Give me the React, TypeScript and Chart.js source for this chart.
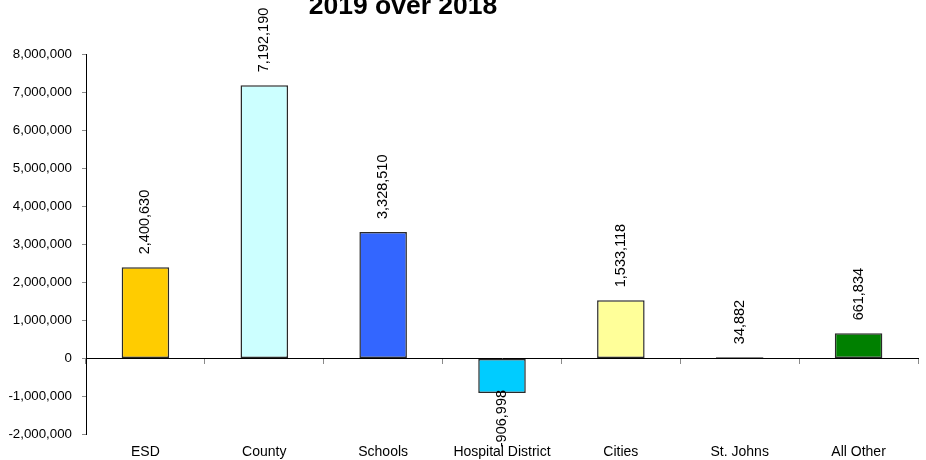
import React, { useEffect, useRef } from 'react';
import { Chart, registerables } from 'chart.js';

Chart.register(...registerables);

const titleText = '2019 over 2018';
const categories = ['ESD', 'County', 'Schools', 'Hospital District', 'Cities', 'St. Johns', 'All Other'];
const changes = [2400630, 7192190, 3328510, -906998, 1533118, 34882, 661834];
const barColors = ['#FFCC00', '#CCFFFF', '#3366FF', '#00CCFF', '#FFFF99', '#000000', '#008000'];
const yMin = -2000000;
const yMax = 8000000;
const yStep = 1000000;

const FONT = 'Liberation Sans, Arial, Helvetica, sans-serif';

const fmt = (v: number) => v.toLocaleString('en-US');

const titlePlugin = {
  id: 'topTitle',
  afterDraw(chart: any) {
    const ctx = chart.ctx;
    ctx.save();
    ctx.font = `bold 26.5px ${FONT}`;
    ctx.fillStyle = '#000';
    ctx.textAlign = 'center';
    ctx.textBaseline = 'alphabetic';
    ctx.fillText(titleText, 403, 14);
    ctx.restore();
  },
};

const barLabelPlugin = {
  id: 'barLabels',
  afterDatasetsDraw(chart: any) {
    const ctx = chart.ctx;
    const meta = chart.getDatasetMeta(0);
    meta.data.forEach((bar: any, i: number) => {
      const v = changes[i];
      const { x, y } = bar.getProps(['x', 'y'], true);
      ctx.save();
      ctx.translate(x, v >= 0 ? y - 13 : y - 3);
      ctx.rotate(-Math.PI / 2);
      ctx.font = `14.5px ${FONT}`;
      ctx.fillStyle = '#000';
      ctx.textAlign = v >= 0 ? 'left' : 'right';
      ctx.textBaseline = 'middle';
      ctx.fillText(fmt(v), 0, 0);
      ctx.restore();
    });
  },
};

export default function App() {
  const ref = useRef<HTMLCanvasElement | null>(null);

  useEffect(() => {
    if (!ref.current) return;
    const yFont = { family: FONT, size: 13.3 };
    const xFont = { family: FONT, size: 14 };
    const chart = new Chart(ref.current, {
      type: 'bar',
      data: {
        labels: categories,
        datasets: [
          {
            data: changes,
            backgroundColor: barColors,
            borderColor: '#2a2a2a',
            borderWidth: 1.5,
            borderSkipped: false,
            barPercentage: 0.4,
            categoryPercentage: 1,
            xAxisID: 'x',
            yAxisID: 'y',
          },
        ],
      },
      options: {
        animation: false,
        responsive: false,
        layout: { padding: { top: 54.5, right: 8, left: 0, bottom: 0 } },
        plugins: {
          legend: { display: false },
          tooltip: { enabled: false },
          title: { display: false },
        },
        scales: {
          x: {
            type: 'category',
            position: { y: 0 } as any,
            offset: true,
            grid: {
              display: true,
              drawOnChartArea: false,
              drawTicks: true,
              tickLength: 5,
              color: '#8a8a8a',
              offset: true,
            },
            border: { display: true, color: '#000', width: 1 },
            ticks: { display: false },
          },
          x2: {
            type: 'category',
            position: 'bottom',
            offset: true,
            grid: { display: false, drawTicks: false },
            border: { display: false },
            ticks: { padding: 9, font: xFont, color: '#000', maxRotation: 0, autoSkip: false },
            afterFit: (s: any) => {
              s.height = 25.5;
            },
          },
          y: {
            min: yMin,
            max: yMax,
            ticks: {
              stepSize: yStep,
              padding: 10,
              font: yFont,
              color: '#000',
              callback: (v: any) => fmt(Number(v)),
            },
            grid: {
              drawOnChartArea: false,
              drawTicks: true,
              tickLength: 4,
              color: '#8a8a8a',
            },
            border: { display: true, color: '#000', width: 1 },
            afterFit: (s: any) => {
              s.width = 86;
            },
          },
        },
      },
      plugins: [barLabelPlugin, titlePlugin],
    });
    return () => chart.destroy();
  }, []);

  return (
    <div style={{ position: 'absolute', left: 0, top: 0, width: 926, height: 460, background: '#fff' }}>
      <canvas ref={ref} width={926} height={460} />
    </div>
  );
}
